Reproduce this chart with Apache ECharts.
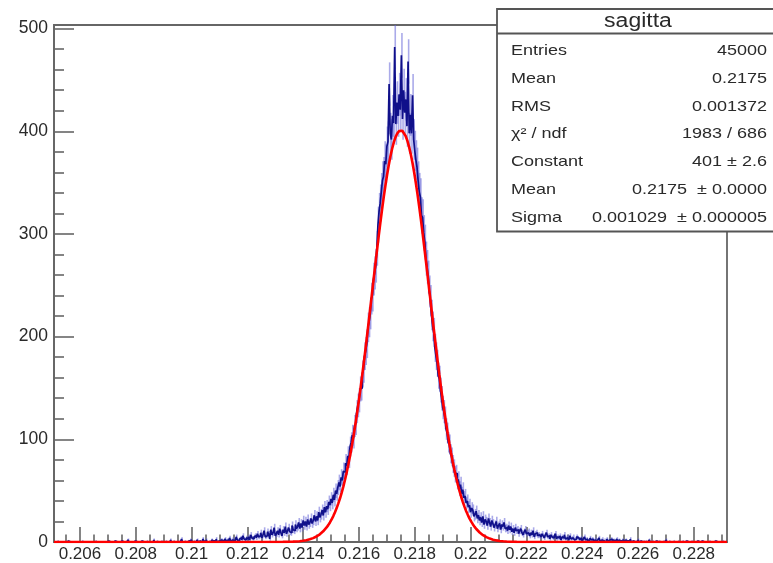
<!DOCTYPE html>
<html>
<head>
<meta charset="utf-8">
<script src="https://cdn.jsdelivr.net/npm/echarts@6/dist/echarts.min.js"></script>
<style>
  html, body { margin: 0; padding: 0; background: #fff; }
  #chart { width: 773px; height: 563px; }
</style>
</head>
<body>
<div id="chart"></div>
<script>
// Histogram binning for "sagitta"
const histLow = 0.20508;
const binWidth = 0.00004;

// Bin contents, left to right
const counts = [
  // 0.2051 - 0.2071
  0,0,0,1,0,0,0,0,0,0, 0,0,1,0,0,0,0,0,0,0, 0,0,0,0,0,1,0,0,0,0, 0,0,0,0,0,0,0,1,0,0, 0,0,0,0,0,0,0,0,1,0,
  // 0.2071 - 0.2091
  0,0,0,0,1,0,0,0,0,0, 1,0,0,0,0,0,2,0,0,0, 0,0,1,0,0,0,0,0,1,0, 0,0,0,1,0,0,0,0,0,2, 0,0,1,0,0,0,1,0,0,0,
  // 0.2091 - 0.2111
  1,0,0,0,2,0,0,1,0,0, 0,1,0,0,3,0,0,1,0,0, 1,0,2,0,0,1,0,0,2,0, 1,0,0,3,1,0,2,0,0,1, 0,2,1,0,1,3,0,1,0,2,
  // 0.2111 - 0.2125
  2,1,0,3,1,2,0,4,1,2, 3,1,2,5,2,1,3,4,2,6, 3,2,4,3,5,2,7,4,3,5, 6,4,8,5,6,
  // peak region 0.2125 - 0.2225
  9,4,7,11,5, 6,10,8,3,12, 7,9,14,6,8, 11,7,13,9,6, 12,9,15,8,11,
  14,10,9,16,12, 11,17,13,15,19, 13,18,14,21,16, 20,15,22,17,19, 23,18,21,26,20,
  25,21,29,24,27, 31,26,34,29,35, 32,39,36,42,38, 46,41,50,47,53, 58,54,63,60,69,
  68,77,74,84,81, 93,97,104,101,113, 115,127,133,138,149, 150,164,168,181,186, 193,209,214,222,237,
  240,256,262,269,286, 309,322,330,341,352, 356,371,368,385,390, 446,398,392,415,408, 482,407,428,415,436,
  421,474,412,440,418, 431,405,468,398,416, 398,435,392,381,372, 365,352,341,336,318, 316,301,292,276,268,
  258,244,235,221,210, 204,189,181,174,162, 159,148,140,131,127, 121,110,106,97,95, 86,83,76,72,66,
  67,59,61,52,56, 47,51,43,45,38, 40,34,36,29,33, 31,25,27,30,23, 26,21,24,19,25,
  17,22,20,16,23, 19,15,21,18,14, 17,20,13,16,18, 12,17,15,19,13, 14,11,16,12,15,
  10,13,9,14,11, 12,8,11,13,9, 7,10,12,8,9, 10,6,9,7,11, 5,8,9,6,7, 6,
  // 0.2225 - 0.2239
  5,8,6,4,7,9,5,6,3,7, 5,4,6,8,3,5,4,6,2,5, 4,7,3,4,5,2,6,3,4,5, 2,3,5,4,
  // 0.2239 - 0.2259
  3,2,4,1,3,5,2,3,1,2, 4,2,3,1,2,3,0,2,4,1, 2,3,1,2,0,3,1,2,1,3, 0,2,1,1,3,0,2,1,0,2, 1,0,2,1,0,1,3,0,1,1,
  // 0.2259 - 0.2292
  0,1,0,2,0,1,0,0,1,0, 1,0,0,2,0,0,1,0,0,1, 0,0,1,0,0,0,1,0,2,0, 0,1,0,0,0,1,0,0,0,1,
  0,0,0,1,0,0,1,0,0,0, 0,1,0,0,0,0,1,0,0,0, 1,0,0,0,0,0,0,1,0,0, 0,0,1,0,0,0,0,0,0,1, 0,0
];

// Gaussian fit parameters (from the stats box)
const fitConstant = 401;
const fitMean = 0.2175;
const fitSigma = 0.001029;

// Axis tick labels
const xTickValues = [0.206, 0.208, 0.210, 0.212, 0.214, 0.216, 0.218, 0.220, 0.222, 0.224, 0.226, 0.228];
const yTickValues = [0, 100, 200, 300, 400, 500];

// Stats box rows
const statsTitle = 'sagitta';
const statsLabels = ['Entries', 'Mean', 'RMS', 'χ² / ndf', 'Constant', 'Mean', 'Sigma'];
const statsValues = ['45000', '0.2175', '0.001372', '1983 / 686', '401 ± 2.6', '0.2175  ± 0.0000', '0.001029  ± 0.000005'];

// ---- build option ----
const xMin = 0.20507, xMax = 0.22919;
const yMin = 0, yMax = 503.5;

const histData = counts.map((c, i) => [histLow + (i + 0.5) * binWidth, c]);

const fitData = [];
const nFit = 400;
for (let k = 0; k <= nFit; k++) {
  const x = xMin + (xMax - xMin) * k / nFit;
  const z = (x - fitMean) / fitSigma;
  fitData.push([x, fitConstant * Math.exp(-0.5 * z * z)]);
}

const xMinor = [];
for (let k = 0; k < 60; k++) {
  const v = Math.round((0.2050 + k * 0.0005) * 1e5) / 1e5;
  if (v > xMin && v < xMax && !xTickValues.some(t => Math.abs(t - v) < 1e-7)) xMinor.push(v);
}
const yMinor = [];
for (let v = 20; v < yMax; v += 20) if (v % 100 !== 0) yMinor.push(v);

const axisColor = '#666';
const textColor = '#2a2a2a';
const fontFamily = '"Liberation Sans", Arial, Helvetica, sans-serif';

const chart = echarts.init(document.getElementById('chart'), null, { renderer: 'canvas' });

const statsLeft = 497, statsTop = 9, statsBottom = 231.5, statsRight = 776;
const rowY = [50.5, 78.5, 106.5, 134, 162, 190, 217.5];
const graphics = [
  {
    type: 'rect', z: 100,
    shape: { x: statsLeft, y: statsTop, width: statsRight - statsLeft, height: statsBottom - statsTop },
    style: { fill: '#fff', stroke: '#555', lineWidth: 1.8 }
  },
  {
    type: 'line', z: 101,
    shape: { x1: statsLeft, y1: 33.5, x2: statsRight, y2: 33.5 },
    style: { stroke: '#555', lineWidth: 1.8 }
  },
  {
    type: 'text', z: 102, x: 638, y: 21.5, scaleX: 1.18,
    style: { text: statsTitle, font: '19.5px ' + fontFamily, fill: textColor, align: 'center', verticalAlign: 'middle' }
  }
];
statsLabels.forEach((lab, i) => {
  graphics.push({
    type: 'text', z: 102, x: 511, y: rowY[i], scaleX: 1.2,
    style: { text: lab, font: '15px ' + fontFamily, fill: textColor, align: 'left', verticalAlign: 'middle' }
  });
  graphics.push({
    type: 'text', z: 102, x: 767, y: rowY[i], scaleX: 1.2,
    style: { text: statsValues[i], font: '15px ' + fontFamily, fill: textColor, align: 'right', verticalAlign: 'middle' }
  });
});

const fmtX = v => String(parseFloat(v.toFixed(3)));

const option = {
  animation: false,
  backgroundColor: '#fff',
  grid: {
    left: 54, top: 25, width: 673, height: 517,
    show: true, borderColor: axisColor, borderWidth: 1.8, backgroundColor: 'transparent'
  },
  xAxis: [
    {
      type: 'value', min: xMin, max: xMax, position: 'bottom',
      axisLine: { show: true, lineStyle: { color: axisColor, width: 1.8 } },
      axisTick: { show: true, inside: true, length: 15, customValues: xTickValues, lineStyle: { color: axisColor, width: 1.6 } },
      axisLabel: {
        show: true, customValues: xTickValues, formatter: fmtX, margin: 4,
        color: textColor, fontSize: 17, fontFamily: fontFamily
      },
      splitLine: { show: false }
    },
    {
      type: 'value', min: xMin, max: xMax, position: 'bottom',
      axisLine: { show: false },
      axisTick: { show: true, inside: true, length: 7.5, customValues: xMinor, lineStyle: { color: axisColor, width: 1.6 } },
      axisLabel: { show: false },
      splitLine: { show: false }
    }
  ],
  yAxis: [
    {
      type: 'value', min: yMin, max: yMax, position: 'left',
      axisLine: { show: true, lineStyle: { color: axisColor, width: 1.8 } },
      axisTick: { show: true, inside: true, length: 20, customValues: yTickValues, lineStyle: { color: axisColor, width: 1.6 } },
      axisLabel: {
        show: true, customValues: yTickValues, margin: 6,
        color: textColor, fontSize: 17.5, fontFamily: fontFamily
      },
      splitLine: { show: false }
    },
    {
      type: 'value', min: yMin, max: yMax, position: 'left',
      axisLine: { show: false },
      axisTick: { show: true, inside: true, length: 10, customValues: yMinor, lineStyle: { color: axisColor, width: 1.6 } },
      axisLabel: { show: false },
      splitLine: { show: false }
    }
  ],
  series: [
    {
      name: 'errors', type: 'custom', xAxisIndex: 0, yAxisIndex: 0, z: 2,
      data: histData,
      renderItem: function (params, api) {
        const x = api.value(0), c = api.value(1);
        if (!c) return null;
        const e = Math.sqrt(c);
        const p1 = api.coord([x, c - e]);
        const p2 = api.coord([x, Math.min(c + e, yMax)]);
        return {
          type: 'line',
          shape: { x1: p1[0], y1: p1[1], x2: p2[0], y2: p2[1] },
          style: { stroke: 'rgba(100,100,215,0.55)', lineWidth: 1.6 }
        };
      }
    },
    {
      name: 'sagitta', type: 'line', step: 'middle', xAxisIndex: 0, yAxisIndex: 0, z: 3,
      data: histData, showSymbol: false, symbol: 'none',
      lineStyle: { color: '#10108a', width: 1.7 }
    },
    {
      name: 'gaus', type: 'line', xAxisIndex: 0, yAxisIndex: 0, z: 4,
      data: fitData, showSymbol: false, symbol: 'none', smooth: false,
      lineStyle: { color: '#ff0000', width: 2.6 }
    }
  ],
  graphic: graphics
};

chart.setOption(option);
</script>
</body>
</html>
